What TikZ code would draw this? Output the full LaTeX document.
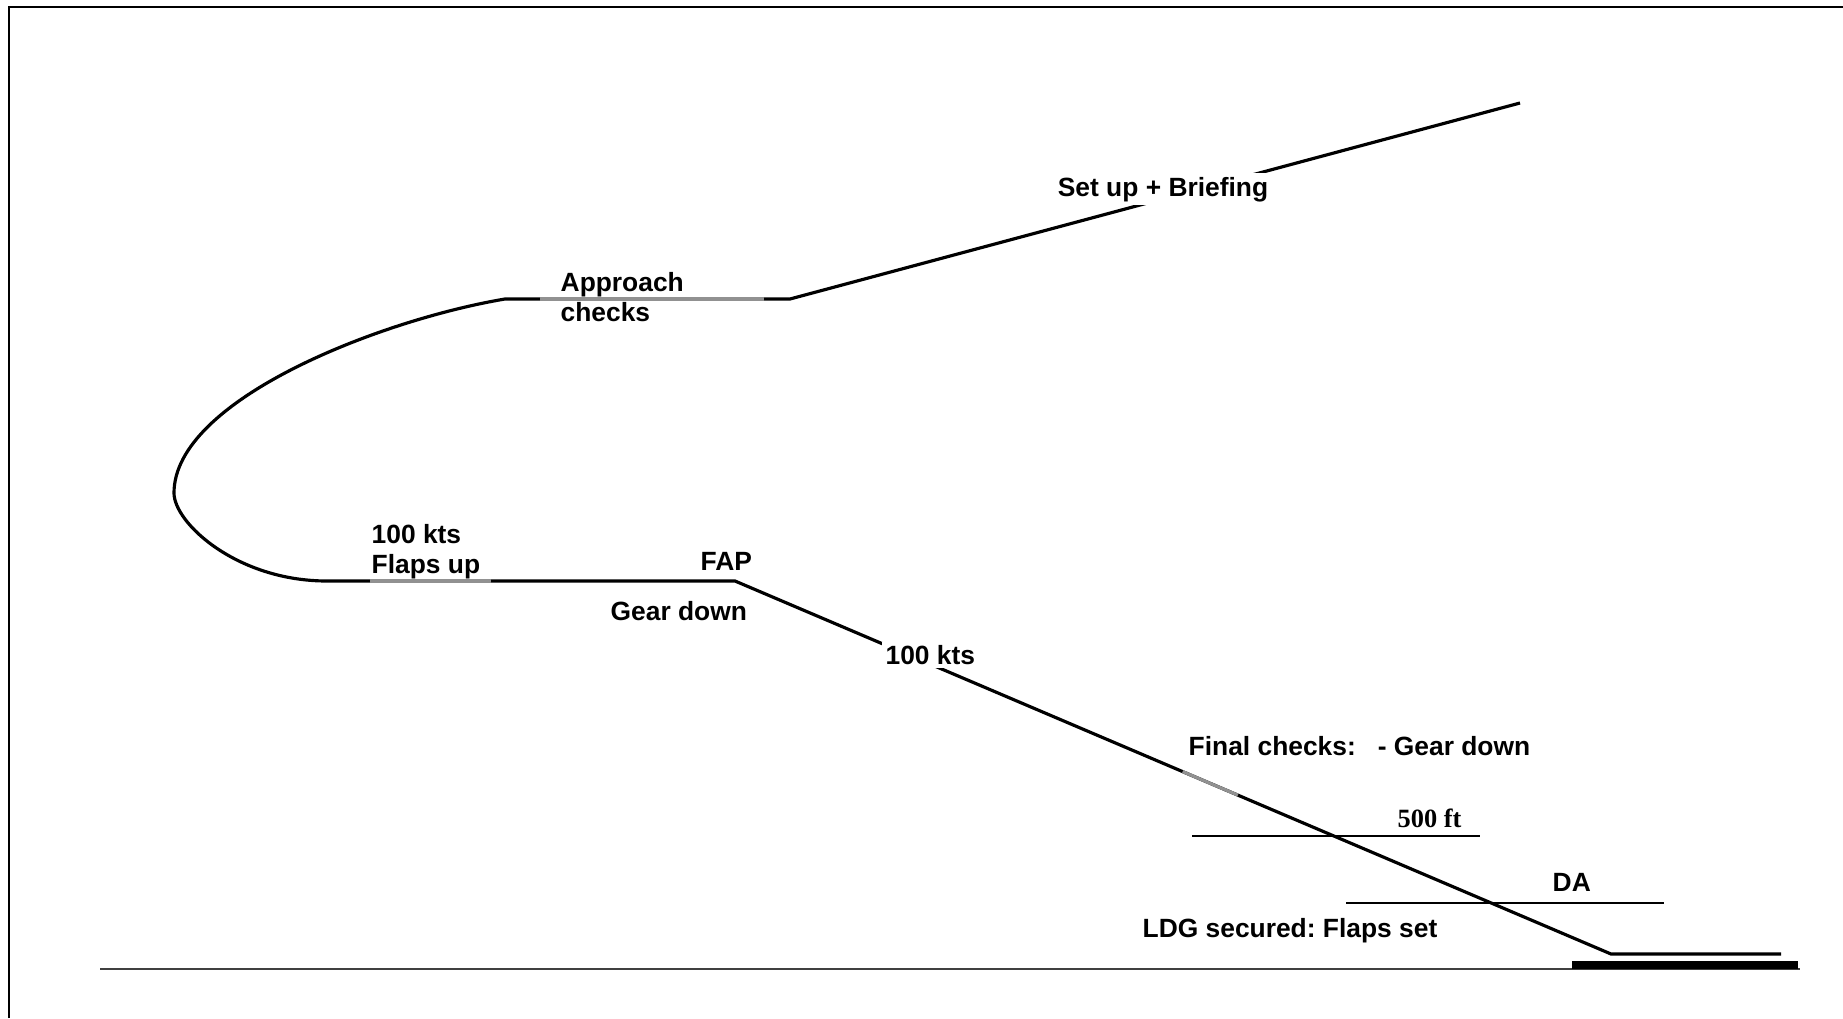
\documentclass[tikz,border=0pt]{standalone}
\usepackage{fontspec}
\setmainfont{Liberation Sans}
\newfontfamily\altfont{Liberation Serif}
\usepackage{tikz}
\usetikzlibrary{positioning,calc}
\definecolor{leggray}{RGB}{145,145,145}
\frenchspacing

\begin{document}
\begin{tikzpicture}[x=0.01cm, y=-0.01cm, every node/.style={font=\fontsize{7.5}{8.5}\selectfont\bfseries, inner sep=0pt}]
      \tikzstyle{flight}=[line width=0.9pt, black]
      \tikzstyle{greyleg}=[line width=0.9pt, leggray]
      \tikzstyle{gate}=[line width=0.55pt, black]
      \tikzstyle{onpath}=[fill=white, inner sep=1pt, anchor=base]
      \useasboundingbox (0,0) rectangle (1843,1018);
      \draw[line width=0.6pt] (9,1018) -- (9,7) -- (1843,7);
      \coordinate (start) at (1520,103);
      \coordinate (appr) at (790,299);
      \coordinate (turnin) at (505,299);
      \coordinate (turn) at (174,493);
      \coordinate (base) at (327,581);
      \coordinate (fap) at (735,581);
      \coordinate (td) at (1611,954);
      \coordinate (rollout) at (1781,954);
      \draw[flight] (start) -- (appr) -- (turnin) .. controls (380,320) and (174,400) .. (turn)
            .. controls (174,523) and (237,581) .. (base) -- (fap) -- (td) -- (rollout);
      \draw[greyleg] (540,299) -- (764,299);
      \draw[greyleg] (370,581) -- (491,581);
      \draw[greyleg] ($(fap)!0.511!(td)$) -- ($(fap)!0.574!(td)$);
      \node[onpath, yshift=0.8pt] (brief) at ($(appr)!0.511!(start)$) {Set up + Briefing};
      \node[onpath] (kts2) at ($(fap)!0.223!(td)$) {100 kts};
      \node[anchor=north west, align=left] (checks) at (560,272) {Approach\\checks};
      \node[anchor=north west, align=left] (flaps) at (371,524) {100 kts\\Flaps up};
      \node[anchor=base west] (faplbl) at (700,570) {FAP};
      \node[anchor=base west] (gear) at (610,620) {Gear down};
      \node[anchor=base west] (final) at (1188,755) {Final checks:~~~- Gear down};
      \draw[gate] (1192,836) -- (1480,836);
      \node[anchor=base west, font=\fontsize{7.5}{8.5}\altfont\bfseries] (ft) at (1397,827) {500 ft};
      \draw[gate] (1346,903) -- (1664,903);
      \node[anchor=base west] (da) at (1552,891) {DA};
      \node[anchor=base west] (ldg) at (1142,937) {LDG secured: Flaps set};
      \draw[line width=0.5pt, black!75] (100,969) -- (1800,969);
      \fill (1572,961) rectangle (1798,969);
    \end{tikzpicture}
\end{document}
